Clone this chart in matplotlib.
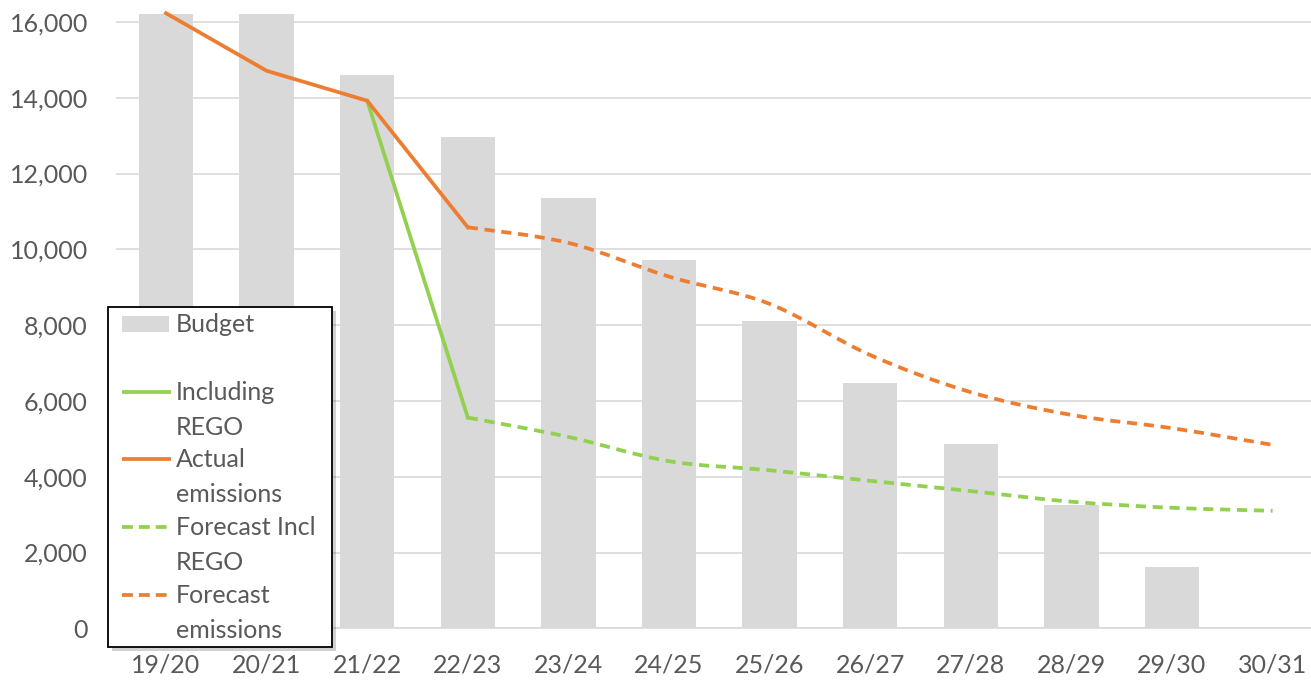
import matplotlib
matplotlib.use("Agg")
import matplotlib.pyplot as plt
import numpy as np
from matplotlib.path import Path
from matplotlib.patches import PathPatch, Rectangle
from matplotlib.lines import Line2D

# ---------------- data ----------------
categories = ["19/20", "20/21", "21/22", "22/23", "23/24", "24/25",
              "25/26", "26/27", "27/28", "28/29", "29/30", "30/31"]
budget = [16200, 16200, 14610, 12970, 11350, 9720, 8110, 6480, 4860, 3250, 1630, 0]
actual_emissions = [16230, 14710, 13920, 10580]          # 19/20 .. 22/23
including_rego = [13920, 5560]                            # 21/22 .. 22/23
forecast_emissions = [10580, 10170, 9280, 8560, 7210, 6230, 5630, 5280, 4840]  # 22/23 .. 30/31
forecast_incl_rego = [5560, 5050, 4410, 4170, 3890, 3620, 3340, 3180, 3100]    # 22/23 .. 30/31
y_ticks = list(range(0, 16001, 2000))
legend_labels = ["Budget", "Including\nREGO", "Actual\nemissions",
                 "Forecast Incl\nREGO", "Forecast\nemissions"]

# ---------------- style ----------------
W, H, DPI = 1311, 683, 100
GREY = "#D9D9D9"
TXT = "#595959"
ORANGE = "#ED7D31"
GREEN = "#92D050"
FONT = "Lato"
FS = 18
LW = 2.7
DASH = (0, (2.7, 1.8))

plt.rcParams["font.family"] = [FONT, "DejaVu Sans"]

fig = plt.figure(figsize=(W / DPI, H / DPI), dpi=DPI)
ax_left = 115.7 / W
ax_bottom = (H - 628.3) / H
ax = fig.add_axes([ax_left, ax_bottom, 1 - ax_left, 1 - ax_bottom])

x = np.arange(len(categories))
ax.bar(x, budget, width=0.54, color=GREY, zorder=2)

# straight solid lines
ax.plot(x[0:4], actual_emissions, color=ORANGE, lw=LW, zorder=4, solid_joinstyle="round")
ax.plot(x[2:4], including_rego, color=GREEN, lw=LW, zorder=3)


def smooth_patch(xs, ys, **kw):
    pts = np.column_stack([xs, ys]).astype(float)
    n = len(pts)
    verts = [pts[0]]
    codes = [Path.MOVETO]
    for i in range(n - 1):
        p0 = pts[i - 1] if i > 0 else pts[i]
        p1 = pts[i]
        p2 = pts[i + 1]
        p3 = pts[i + 2] if i + 2 < n else pts[i + 1]
        c1 = p1 + (p2 - p0) / 6.0
        c2 = p2 - (p3 - p1) / 6.0
        verts += [c1, c2, p2]
        codes += [Path.CURVE4] * 3
    return PathPatch(Path(verts, codes), fill=False, **kw)


ax.add_patch(smooth_patch(x[3:], forecast_incl_rego, edgecolor=GREEN, lw=LW,
                          linestyle=DASH, zorder=3, capstyle="butt"))
ax.add_patch(smooth_patch(x[3:], forecast_emissions, edgecolor=ORANGE, lw=LW,
                          linestyle=DASH, zorder=4, capstyle="butt"))

# axes styling
ax.set_xlim(-0.5, -0.5 + (W - 115.7) / 100.6)
ax.set_ylim(0, 628.3 / 37.9 * 1000)
ax.set_yticks(y_ticks)
ax.set_yticklabels([f"{v:,}" for v in y_ticks])
ax.set_xticks(x)
ax.set_xticklabels(categories)
ax.yaxis.grid(True, color=GREY, lw=1.2, zorder=0)
ax.set_axisbelow(True)
for s in ["top", "right", "left"]:
    ax.spines[s].set_visible(False)
ax.spines["bottom"].set_color(GREY)
ax.spines["bottom"].set_linewidth(1.2)
ax.spines["bottom"].set_zorder(1)
ax.tick_params(axis="both", length=0, labelsize=FS, labelcolor=TXT)
ax.tick_params(axis="y", pad=20)
ax.tick_params(axis="x", pad=18)

# ---------------- manual legend (pixel coords, y from top) ----------------
def fx(px):
    return px / W


def fy(py):
    return 1 - py / H


L, R, T, B = 108.3, 332.0, 307.0, 646.7
shadow = Rectangle((fx(L + 4), fy(B + 4)), fx(R - L), (B - T) / H,
                   transform=fig.transFigure, facecolor="#000000", alpha=0.18,
                   edgecolor="none", zorder=5)
fig.add_artist(shadow)
box = Rectangle((fx(L), fy(B)), fx(R - L), (B - T) / H, transform=fig.transFigure,
                facecolor="white", edgecolor="black", lw=1.3, zorder=6)
fig.add_artist(box)

handle_styles = [
    dict(kind="patch", color=GREY),
    dict(kind="line", color=GREEN, ls="-"),
    dict(kind="line", color=ORANGE, ls="-"),
    dict(kind="line", color=GREEN, ls=(0, (2.9, 1.6))),
    dict(kind="line", color=ORANGE, ls=(0, (2.9, 1.6))),
]
first_baselines = [332, 400, 467, 535, 603]
inner = 35
hx0, hx1, tx = 122, 171, 176
for lab, st, bl in zip(legend_labels, handle_styles, first_baselines):
    if st["kind"] == "patch":
        fig.add_artist(Rectangle((fx(hx0), fy(bl)), fx(hx1 - 2 - hx0), 16 / H,
                                 transform=fig.transFigure, facecolor=st["color"],
                                 edgecolor="none", zorder=7))
    else:
        hy = fy(bl - 8)
        fig.add_artist(Line2D([fx(hx0), fx(hx1)], [hy, hy], transform=fig.transFigure,
                              color=st["color"], lw=LW, ls=st["ls"], zorder=7,
                              solid_capstyle="butt", dash_capstyle="butt"))
    for j, line in enumerate(lab.split("\n")):
        fig.text(fx(tx), fy(bl + j * inner), line, fontsize=FS, color=TXT,
                 ha="left", va="baseline", zorder=8)

fig.savefig("out.png", dpi=DPI)
